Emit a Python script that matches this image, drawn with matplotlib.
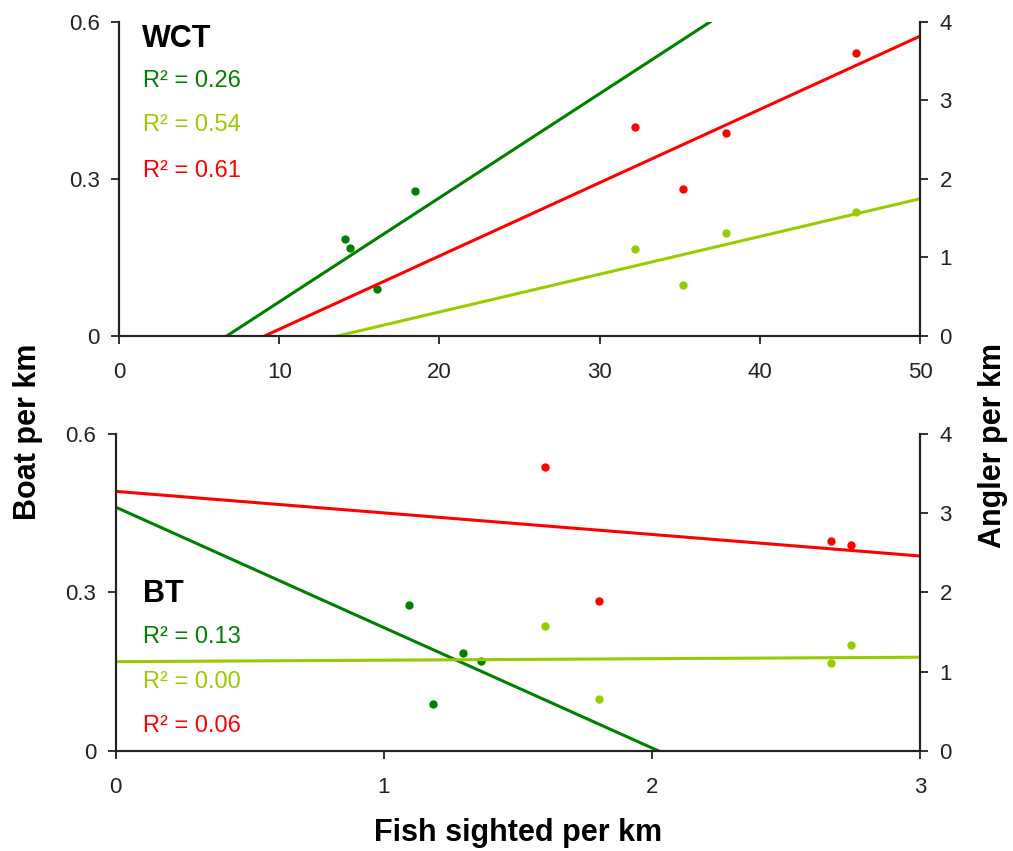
import numpy as np
import matplotlib
matplotlib.use('Agg')
import matplotlib.pyplot as plt

plt.rcParams['font.family'] = ['Liberation Sans', 'DejaVu Sans']

# WCT panel (fish sighted per km on x)
wct_boat_x = [14.1, 14.4, 16.1, 18.5]
wct_boat_y = [0.185, 0.168, 0.090, 0.277]
wct_angler_x = [32.2, 35.2, 37.9, 46.0]
wct_shore_y = [1.11, 0.65, 1.31, 1.58]
wct_total_y = [2.66, 1.87, 2.59, 3.61]
wct_r2 = ['0.26', '0.54', '0.61']

# BT panel
bt_boat_x = [1.094, 1.183, 1.297, 1.363]
bt_boat_y = [0.276, 0.089, 0.185, 0.170]
bt_angler_x = [1.602, 1.801, 2.668, 2.743]
bt_shore_y = [1.58, 0.65, 1.106, 1.33]
bt_total_y = [3.58, 1.886, 2.646, 2.60]
bt_r2 = ['0.13', '0.00', '0.06']

dark_green = '#008000'
light_green = '#99CC00'
red = '#FF0000'


def trend(ax, x, y, xmax, color):
    # linear trendline over the full x range, clipped by the axes
    m, b = np.polyfit(x, y, 1)
    xs = np.array([0, xmax])
    ax.plot(xs, m * xs + b, color=color, lw=2.2, zorder=2)
    ax.plot(x, y, 'o', color=color, ms=5, zorder=3)


def style(ax, ax2, xmax, xticks):
    ax.set_xlim(0, xmax)
    ax.set_ylim(0, 0.6)
    ax2.set_ylim(0, 4)
    ax.set_xticks(xticks)
    ax.set_yticks([0, 0.3, 0.6])
    ax.set_yticklabels(['0', '0.3', '0.6'])
    ax2.set_yticks([0, 1, 2, 3, 4])
    for a in (ax, ax2):
        a.spines['top'].set_visible(False)
        for s in a.spines.values():
            s.set_linewidth(1.5)
            s.set_color('#222222')
        a.tick_params(direction='out', length=6, width=1.3, labelsize=16,
                      colors='#222222')
    ax.tick_params(axis='x', pad=13)
    ax.tick_params(axis='y', pad=8)
    ax2.tick_params(axis='y', pad=8)


fig = plt.figure(figsize=(10.13, 8.51), dpi=100)

# top panel: WCT
ax = fig.add_axes([0.1175, 0.6052, 0.7907, 0.369])
ax2 = ax.twinx()
trend(ax, wct_boat_x, wct_boat_y, 50, dark_green)
trend(ax2, wct_angler_x, wct_shore_y, 50, light_green)
trend(ax2, wct_angler_x, wct_total_y, 50, red)
style(ax, ax2, 50, [0, 10, 20, 30, 40, 50])
ax2.text(0.029, 0.920, 'WCT', transform=ax.transAxes, fontsize=22, fontweight='bold')
for t, yy, c in zip(wct_r2, [0.792, 0.654, 0.507], [dark_green, light_green, red]):
    ax2.text(0.030, yy, 'R² = ' + t, transform=ax.transAxes, fontsize=17, color=c)

# bottom panel: BT
bx = fig.add_axes([0.1142, 0.1179, 0.794, 0.3718])
bx2 = bx.twinx()
trend(bx, bt_boat_x, bt_boat_y, 3, dark_green)
trend(bx2, bt_angler_x, bt_shore_y, 3, light_green)
trend(bx2, bt_angler_x, bt_total_y, 3, red)
style(bx, bx2, 3, [0, 1, 2, 3])
bx2.text(0.034, 0.471, 'BT', transform=bx.transAxes, fontsize=22, fontweight='bold')
for t, yy, c in zip(bt_r2, [0.341, 0.197, 0.060], [dark_green, light_green, red]):
    bx2.text(0.034, yy, 'R² = ' + t, transform=bx.transAxes, fontsize=17, color=c)

fig.text(0.028, 0.492, 'Boat per km', rotation=90, ha='center', va='center',
         fontsize=22, fontweight='bold')
fig.text(0.980, 0.477, 'Angler per km', rotation=90, ha='center', va='center',
         fontsize=22, fontweight='bold')
fig.text(0.511, 0.021, 'Fish sighted per km', ha='center', va='center',
         fontsize=22, fontweight='bold')

fig.savefig('out.png', dpi=100)
